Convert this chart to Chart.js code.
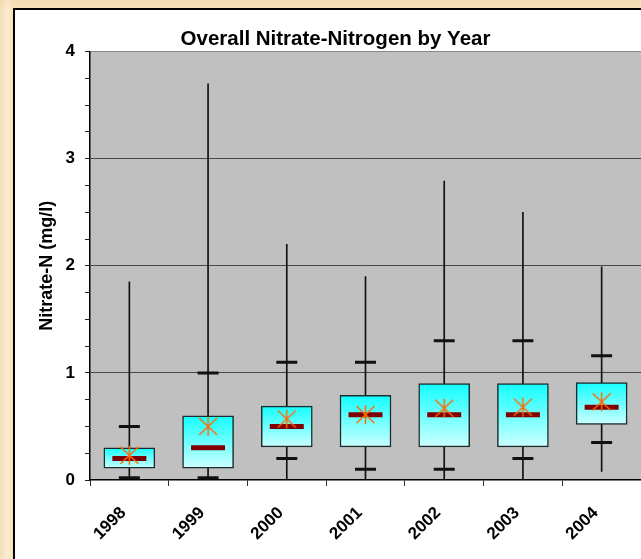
<!DOCTYPE html>
<html>
<head>
<meta charset="utf-8">
<script src="https://cdn.jsdelivr.net/npm/chart.js@4.4.1/dist/chart.umd.min.js"></script>
<style>
  html, body { margin: 0; padding: 0; width: 641px; height: 559px; overflow: hidden; }
  body {
    background-color: #f9e9cc;
    background-image:
      linear-gradient(90deg, rgba(240,214,168,0.6) 0px, rgba(252,240,216,0.2) 8px, rgba(240,214,168,0.5) 13px),
      linear-gradient(180deg, rgba(245,222,180,0.7) 0px, rgba(252,238,212,0.3) 8px);
  }
  #panel {
    position: absolute; left: 13px; top: 8px; width: 640px; height: 560px;
    background: #fff; border-left: 2px solid #000; border-top: 2px solid #000;
  }
  #wrap { position: absolute; left: 0; top: 0; width: 641px; height: 559px; }
</style>
</head>
<body>
<div id="panel"></div>
<div id="wrap"><canvas id="graph_canvas" width="641" height="559"></canvas></div>
<script>
// values (mg/l)
const YEARS = ['1998', '1999', '2000', '2001', '2002', '2003', '2004'];
const minVals = [0, 0, 0, 0, 0, 0, 0.08];
const lowerCaps = [0.02, 0.02, 0.2, 0.1, 0.1, 0.2, 0.35];
const q1Vals = [0.11, 0.11, 0.31, 0.31, 0.31, 0.31, 0.52];
const medianVals = [0.2, 0.3, 0.5, 0.61, 0.61, 0.61, 0.68];
const meanVals = [0.23, 0.5, 0.57, 0.61, 0.67, 0.68, 0.73];
const q3Vals = [0.3, 0.6, 0.69, 0.79, 0.9, 0.9, 0.91];
const upperCaps = [0.5, 1.0, 1.1, 1.1, 1.3, 1.3, 1.16];
const maxVals = [1.85, 3.7, 2.2, 1.9, 2.79, 2.5, 1.99];

const FONT = 'Liberation Sans, Arial, sans-serif';

// excel style star marker: X plus a vertical stroke
function makeStar() {
    var c = document.createElement('canvas');
    c.width = 21; c.height = 21;
    var g = c.getContext('2d');
    g.strokeStyle = '#ff6a00';
    g.lineWidth = 1.5;
    g.beginPath();
    g.moveTo(1.5, 2); g.lineTo(19.5, 19);
    g.moveTo(19.5, 2); g.lineTo(1.5, 19);
    g.moveTo(10.5, 1); g.lineTo(10.5, 20);
    g.stroke();
    return c;
}

function boxFill(ctx) {
    var chart = ctx.chart;
    if (!chart.chartArea || ctx.dataIndex === undefined) return '#80ffff';
    var y = chart.scales.y;
    var top = y.getPixelForValue(q3Vals[ctx.dataIndex]);
    var bottom = y.getPixelForValue(q1Vals[ctx.dataIndex]);
    var grad = chart.ctx.createLinearGradient(0, top, 0, bottom);
    grad.addColorStop(0, '#12ffff');
    grad.addColorStop(1, '#ccffff');
    return grad;
}

var whiskers = minVals.map((v, i) => [v, maxVals[i]]);
var boxes = q1Vals.map((v, i) => [v, q3Vals[i]]);
var star = makeStar();

var graph = new Chart(document.getElementById('graph_canvas'), {
    type: 'bar',
    data: {
        labels: YEARS,
        datasets: [
            { label: 'range', data: whiskers, grouped: false, barThickness: 1, backgroundColor: '#111', order: 5 },
            { label: 'box', data: boxes, grouped: false, barThickness: 51, backgroundColor: boxFill,
              borderColor: '#1c2c2c', borderWidth: 1.5, borderSkipped: false, order: 4 },
            { type: 'line', label: 'upper', data: upperCaps, showLine: false, pointStyle: 'line',
              pointRadius: 10.5, pointBorderWidth: 3, pointBorderColor: '#111', order: 3 },
            { type: 'line', label: 'lower', data: lowerCaps, showLine: false, pointStyle: 'line',
              pointRadius: 10.5, pointBorderWidth: 3, pointBorderColor: '#111', order: 3 },
            { type: 'line', label: 'median', data: medianVals, showLine: false, pointStyle: 'line',
              pointRadius: 17, pointBorderWidth: 5, pointBorderColor: '#800000', order: 2 },
            { type: 'line', label: 'mean', data: meanVals, showLine: false, pointStyle: star,
              pointRadius: 9, order: 1 }
        ]
    },
    options: {
        responsive: false,
        animation: false,
        layout: { autoPadding: false, padding: { left: 30, right: 0, top: 24, bottom: 0 } },
        plugins: {
            legend: { display: false },
            tooltip: { enabled: false },
            title: {
                display: true,
                text: 'Overall Nitrate-Nitrogen by Year',
                color: '#000',
                font: { family: FONT, size: 20.5, weight: 'bold' },
                padding: { top: 3, bottom: 0 }
            }
        },
        scales: {
            x: {
                offset: true,
                border: { color: '#000', width: 1.5 },
                grid: { offset: true, drawOnChartArea: false, tickLength: 6, color: '#333' },
                ticks: {
                    color: '#000', maxRotation: 45, minRotation: 45, padding: 17, labelOffset: -6,
                    font: { family: FONT, size: 17, weight: 'bold' }
                },
                afterFit: function (scale) {
                    scale.height = 79;
                    scale.paddingLeft = 0;
                    scale.paddingRight = 0;
                }
            },
            y: {
                min: 0, max: 4,
                border: { color: '#000', width: 1.5 },
                grid: {
                    tickLength: 5, tickColor: '#222',
                    color: function (ctx) {
                        var v = ctx.tick ? ctx.tick.value : 0;
                        if (v === 4) return '#888';
                        if (v === 1 || v === 2 || v === 3) return '#474747';
                        return 'transparent';
                    }
                },
                ticks: {
                    stepSize: 0.25, autoSkip: false, color: '#000', padding: 10,
                    font: { family: FONT, size: 17, weight: 'bold' },
                    callback: v => Number.isInteger(v) ? v : ''
                },
                title: {
                    display: true, text: 'Nitrate-N (mg/l)', color: '#000', padding: { top: 6, bottom: 0 },
                    font: { family: FONT, size: 18, weight: 'bold' }
                },
                afterFit: function (scale) {
                    scale.width = 60;
                    scale.paddingTop = 0;
                    scale.paddingBottom = 0;
                }
            }
        }
    },
    plugins: [{
        id: 'plotBg',
        beforeDraw: function (chart) {
            var a = chart.chartArea;
            chart.ctx.save();
            chart.ctx.fillStyle = '#c0c0c0';
            chart.ctx.fillRect(a.left, a.top, a.right - a.left, a.bottom - a.top);
            chart.ctx.restore();
        }
    }]
});
</script>
</body>
</html>
